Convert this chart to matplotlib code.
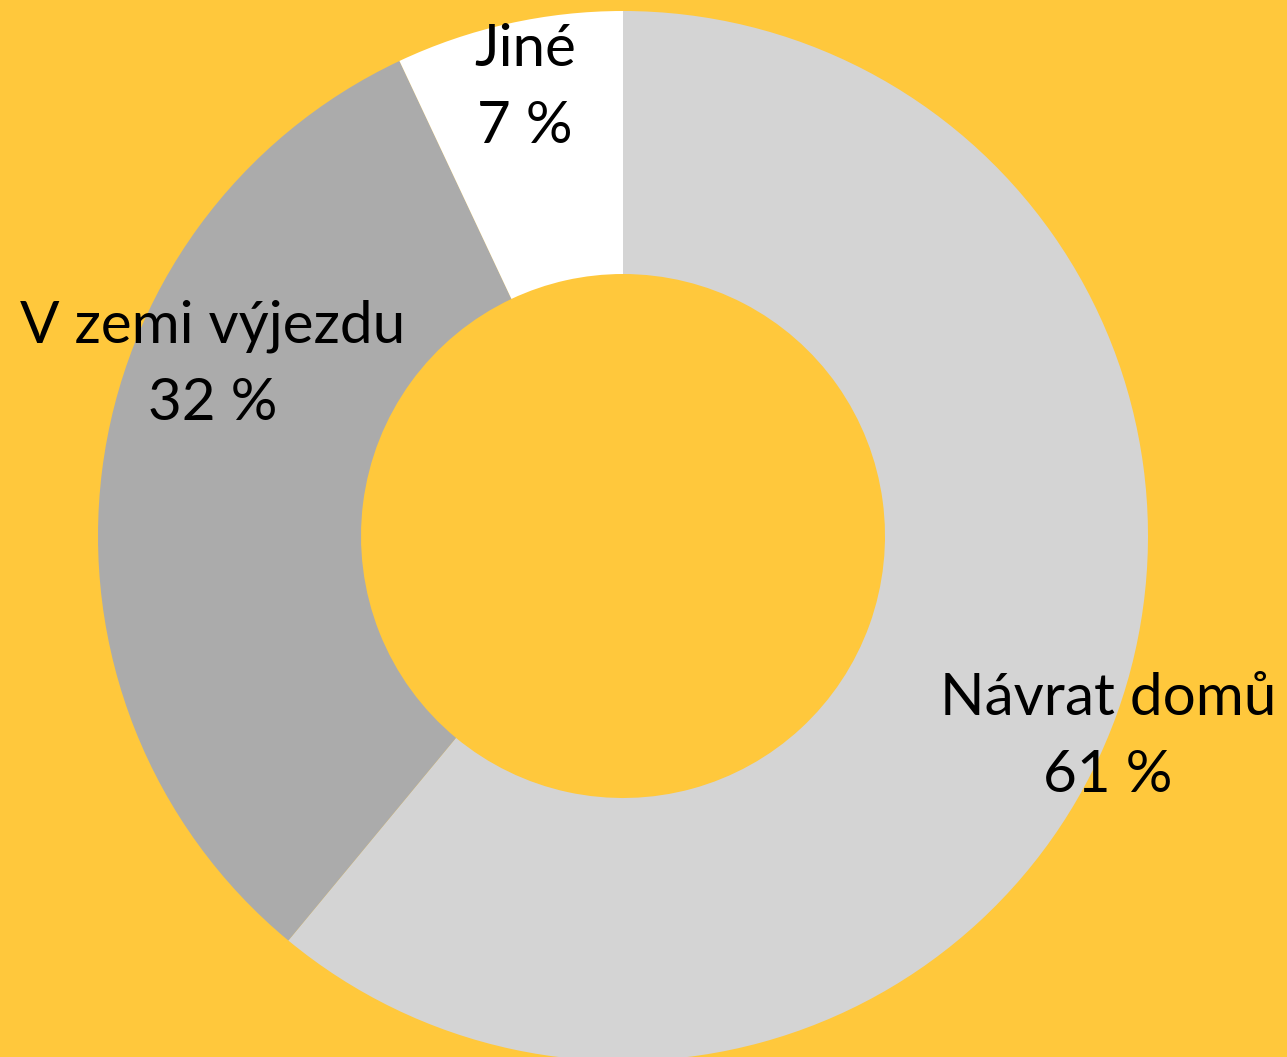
import matplotlib.pyplot as plt

kategorie = ["Návrat domů", "V zemi výjezdu", "Jiné"]
podily = [61, 32, 7]
barvy = ["#D4D4D4", "#ABABAB", "#FFFFFF"]

W, H = 1287, 1057
fig = plt.figure(figsize=(W / 100, H / 100), dpi=100)
fig.patch.set_facecolor("#FFC83C")
ax = fig.add_axes([0, 0, 1, 1])

cx, cy, r = 623, H - 536, 525
ax.pie(podily, colors=barvy, startangle=90, counterclock=False,
       center=(cx, cy), radius=r, frame=True,
       wedgeprops=dict(width=r - 262, edgecolor="none"))
ax.set_xlim(0, W)
ax.set_ylim(0, H)
ax.axis("off")

# umístění popisků (pixely od levého horního rohu)
pozice = [(1108, 737), (213, 365), (525, 88)]
for nazev, p, (x, y) in zip(kategorie, podily, pozice):
    ax.text(x, H - y, f"{nazev}\n{p} %", ha="center", va="center",
            fontsize=42, family="Lato", linespacing=1.55, color="black")

fig.savefig("out.png", dpi=100, facecolor=fig.get_facecolor())
